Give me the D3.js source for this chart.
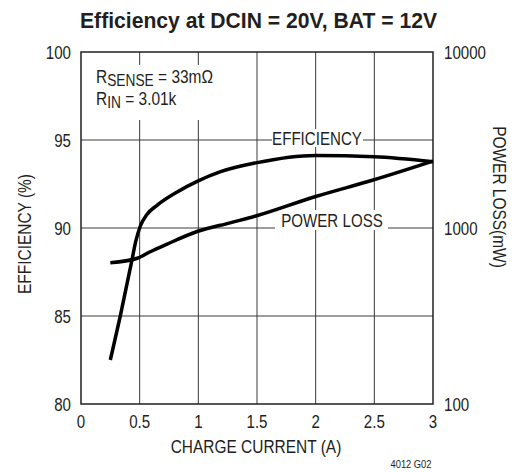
<!DOCTYPE html>
<html>
<head>
<meta charset="utf-8">
<script src="https://cdn.jsdelivr.net/npm/d3@7"></script>
<style>
  body { margin: 0; background: #fff; }
  svg text { font-family: "Liberation Sans Narrow", "Arial Narrow", "Liberation Sans", Arial, sans-serif; fill: #231f20; }
</style>
</head>
<body>
<div id="vis"></div>
<script>
// values
const currentTicks = [0, 0.5, 1, 1.5, 2, 2.5, 3]
const effTicks = [80, 85, 90, 95, 100]
const lossTicks = [100, 1000, 10000]

const effCurrent = [0.25, 0.335, 0.435, 0.465, 0.505, 0.56, 0.65, 0.82, 0.99, 1.19, 1.49, 2.0, 2.5, 3.0]
const efficiency = [82.5, 85.0, 88.2, 89.2, 90.1, 90.75, 91.3, 92.05, 92.65, 93.2, 93.7, 94.12, 94.05, 93.77]

const lossCurrent = [0.25, 0.48, 0.59, 0.73, 0.99, 1.27, 1.49, 2.0, 2.49, 3.0]
const powerLoss = [635, 673, 733, 808, 955, 1070, 1170, 1510, 1874, 2400]

const width = 515
const height = 472
const margin = { top: 52, left: 81 }
const chartWidth = 352
const chartHeight = 352

const svg = d3.select('#vis').append('svg')
  .attr('width', width).attr('height', height)
  .attr('viewBox', [0, 0, width, height])

const x = d3.scaleLinear().domain([0, 3]).range([margin.left, margin.left + chartWidth])
const yEff = d3.scaleLinear().domain([80, 100]).range([margin.top + chartHeight, margin.top])
const yLoss = d3.scaleLog().domain([100, 10000]).range([margin.top + chartHeight, margin.top])

// condensed look: no narrow face installed, so squeeze glyphs horizontally
const label = (px, py, str, opts = {}) => {
  const sx = opts.sx || 0.84
  const rot = opts.rotate ? ` rotate(${opts.rotate})` : ''
  return svg.append('text')
    .attr('transform', `translate(${px},${py})${rot} scale(${sx},1)`)
    .attr('text-anchor', opts.anchor || 'middle')
    .attr('font-size', opts.size || 18)
    .attr('font-weight', opts.weight || 'normal')
    .text(str)
}

// grid
const grid = svg.append('g').attr('stroke', '#3a3a3a').attr('stroke-width', 1)
grid.selectAll('.v').data(currentTicks.slice(1, -1)).join('line')
  .attr('x1', (d) => x(d)).attr('x2', (d) => x(d))
  .attr('y1', margin.top).attr('y2', margin.top + chartHeight)
grid.selectAll('.h').data(effTicks.slice(1, -1)).join('line')
  .attr('x1', margin.left).attr('x2', margin.left + chartWidth)
  .attr('y1', (d) => yEff(d)).attr('y2', (d) => yEff(d))

// white boxes behind the in-plot labels
svg.append('rect').attr('x', 89).attr('y', 65).attr('width', 130).attr('height', 55).attr('fill', '#fff')
svg.append('rect').attr('x', 272).attr('y', 129).attr('width', 91).attr('height', 18).attr('fill', '#fff')
svg.append('rect').attr('x', 275).attr('y', 210).attr('width', 113).attr('height', 20).attr('fill', '#fff')

// frame
svg.append('rect')
  .attr('x', margin.left).attr('y', margin.top)
  .attr('width', chartWidth).attr('height', chartHeight)
  .attr('fill', 'none').attr('stroke', '#231f20').attr('stroke-width', 1.5)

// curves
const effLine = d3.line()
  .curve(d3.curveMonotoneX)
  .x((d, i) => x(effCurrent[i]))
  .y((d) => yEff(d))

const lossLine = d3.line()
  .curve(d3.curveMonotoneX)
  .x((d, i) => x(lossCurrent[i]))
  .y((d) => yLoss(d))

svg.append('path')
  .attr('d', effLine(efficiency))
  .attr('fill', 'none').attr('stroke', '#000').attr('stroke-width', 3.5)

svg.append('path')
  .attr('d', lossLine(powerLoss))
  .attr('fill', 'none').attr('stroke', '#000').attr('stroke-width', 3.5)

// tick labels
currentTicks.forEach((d) => label(x(d), 428, d))
effTicks.forEach((d) => label(71, yEff(d) + 6.5, d, { anchor: 'end' }))
lossTicks.forEach((d) => label(444, yLoss(d) + 6.5, d, { anchor: 'start' }))

// titles
svg.append('text')
  .attr('x', 258.5).attr('y', 28)
  .attr('text-anchor', 'middle').attr('font-size', 22).attr('font-weight', 'bold')
  .attr('textLength', 357).attr('lengthAdjust', 'spacingAndGlyphs')
  .text('Efficiency at DCIN = 20V, BAT = 12V')

label(256, 453, 'CHARGE CURRENT (A)', { sx: 0.86 })
label(31, 234, 'EFFICIENCY (%)', { rotate: -90, sx: 0.86 })
label(493, 197, 'POWER LOSS(mW)', { rotate: 90, sx: 0.86 })
label(411, 468, '4012 G02', { size: 11, sx: 0.85 })

// in-plot labels
label(317, 145, 'EFFICIENCY')
label(332, 227, 'POWER LOSS')

const note = (py, sub, rest) => {
  const t = svg.append('text')
    .attr('transform', `translate(96,${py}) scale(0.86,1)`)
    .attr('font-size', 18)
  t.append('tspan').text('R')
  t.append('tspan').attr('dy', 3).attr('font-size', 16).text(sub)
  t.append('tspan').attr('dy', -3).text(rest)
}
note(83, 'SENSE', ' = 33mΩ')
note(105, 'IN', ' = 3.01k')
</script>
</body>
</html>
